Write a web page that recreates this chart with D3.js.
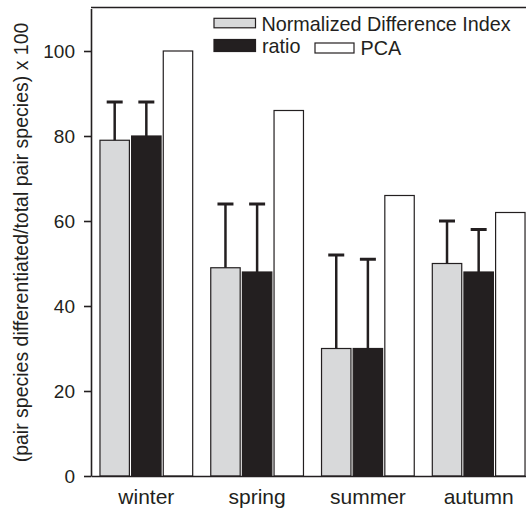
<!DOCTYPE html>
<html>
<head>
<meta charset="utf-8">
<script src="https://cdn.jsdelivr.net/npm/d3@7"></script>
<style>
  html, body { margin: 0; padding: 0; background: #fff; }
  svg { display: block; font-family: "Liberation Sans", Arial, sans-serif; }
</style>
</head>
<body>
<script>
// chart data
const seasons = ["winter", "spring", "summer", "autumn"];
const seriesNames = ["Normalized Difference Index", "ratio", "PCA"];
const ndiValues = [79, 49, 30, 50];
const ndiErrors = [9, 15, 22, 10];
const ratioValues = [80, 48, 30, 48];
const ratioErrors = [8, 16, 21, 10];
const pcaValues = [100, 86, 66, 62];
const yTicks = [0, 20, 40, 60, 80, 100];

const seriesFill = ["#d8d9da", "#231f20", "#ffffff"];
const ink = "#231f20";

// build rows for drawing
const rows = seasons.map((s, i) => ({
  season: s,
  bars: [
    { key: seriesNames[0], value: ndiValues[i], err: ndiErrors[i] },
    { key: seriesNames[1], value: ratioValues[i], err: ratioErrors[i] },
    { key: seriesNames[2], value: pcaValues[i], err: null }
  ]
}));

const width = 526, height = 511;
const margin = { left: 91, top: 8.5, bottom: 476 };

const svg = d3.select("body").append("svg")
  .attr("width", width)
  .attr("height", height);

// scales
const x = d3.scaleBand()
  .domain(seasons)
  .range([margin.left, 534])
  .paddingInner(0.163)
  .paddingOuter(0.081);

const xInner = d3.scaleBand()
  .domain(seriesNames)
  .range([0, x.bandwidth()])
  .paddingInner(0.07);

const y = d3.scaleLinear()
  .domain([0, 110])
  .range([margin.bottom, margin.top]);

// bars
const groups = svg.append("g")
  .selectAll("g")
  .data(rows)
  .join("g")
  .attr("transform", d => `translate(${x(d.season)},0)`);

groups.selectAll("rect")
  .data(d => d.bars)
  .join("rect")
  .attr("x", d => xInner(d.key))
  .attr("y", d => y(d.value))
  .attr("width", xInner.bandwidth())
  .attr("height", d => y(0) - y(d.value))
  .attr("fill", (d, i) => seriesFill[i])
  .attr("stroke", ink)
  .attr("stroke-width", 1.2);

// error bars (upper only)
const errs = groups.selectAll("g.err")
  .data(d => d.bars.filter(b => b.err !== null))
  .join("g")
  .attr("class", "err");

errs.append("line")
  .attr("x1", d => xInner(d.key) + xInner.bandwidth() / 2)
  .attr("x2", d => xInner(d.key) + xInner.bandwidth() / 2)
  .attr("y1", d => y(d.value))
  .attr("y2", d => y(d.value + d.err))
  .attr("stroke", ink)
  .attr("stroke-width", 2.5);

errs.append("line")
  .attr("x1", d => xInner(d.key) + xInner.bandwidth() / 2 - 8)
  .attr("x2", d => xInner(d.key) + xInner.bandwidth() / 2 + 8)
  .attr("y1", d => y(d.value + d.err))
  .attr("y2", d => y(d.value + d.err))
  .attr("stroke", ink)
  .attr("stroke-width", 3);

// axes
const yAxis = svg.append("g")
  .attr("transform", `translate(${margin.left},0)`)
  .call(d3.axisLeft(y).tickValues(yTicks).tickSize(7).tickSizeOuter(0).tickPadding(9));

yAxis.select(".domain").attr("stroke", ink).attr("stroke-width", 1.6);
yAxis.selectAll(".tick line").attr("stroke", ink).attr("stroke-width", 1.6);
yAxis.selectAll(".tick text")
  .attr("fill", ink)
  .style("font-size", "19px")
  .style("font-family", "'Liberation Sans', Arial, sans-serif");

const xAxis = svg.append("g")
  .attr("transform", `translate(0,${margin.bottom})`)
  .call(d3.axisBottom(x).tickSize(0).tickPadding(13));

xAxis.select(".domain").attr("stroke", ink).attr("stroke-width", 1.6);
xAxis.selectAll(".tick text")
  .attr("fill", ink)
  .style("font-size", "21px")
  .style("font-family", "'Liberation Sans', Arial, sans-serif");

// top frame line
svg.append("line")
  .attr("x1", margin.left)
  .attr("x2", width)
  .attr("y1", 7.5)
  .attr("y2", 7.5)
  .attr("stroke", ink)
  .attr("stroke-width", 1.6);

// y title
svg.append("text")
  .attr("transform", "translate(27.5,242.5) rotate(-90)")
  .attr("text-anchor", "middle")
  .attr("fill", ink)
  .style("font-size", "19.5px")
  .text("(pair species differentiated/total pair species) x 100");

// legend
const legendItems = [
  { x: 214, y: 18.3, w: 41.5, h: 9.5, tx: 261.5, ty: 30.7 },
  { x: 214, y: 39.5, w: 41.5, h: 12, tx: 262, ty: 52.7 },
  { x: 315, y: 43, w: 39, h: 10, tx: 360.5, ty: 55.3 }
];

const legend = svg.append("g")
  .selectAll("g")
  .data(seriesNames)
  .join("g");

legend.append("rect")
  .attr("x", (d, i) => legendItems[i].x)
  .attr("y", (d, i) => legendItems[i].y)
  .attr("width", (d, i) => legendItems[i].w)
  .attr("height", (d, i) => legendItems[i].h)
  .attr("fill", (d, i) => seriesFill[i])
  .attr("stroke", ink)
  .attr("stroke-width", 1.2);

legend.append("text")
  .attr("x", (d, i) => legendItems[i].tx)
  .attr("y", (d, i) => legendItems[i].ty)
  .attr("fill", ink)
  .style("font-size", "19.8px")
  .text(d => d);
</script>
</body>
</html>
